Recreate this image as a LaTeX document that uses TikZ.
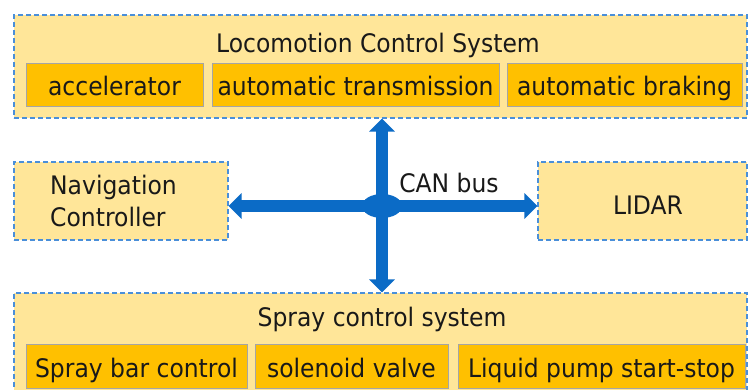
\documentclass[tikz,border=0pt]{standalone}
\usepackage{fontspec}
\setmainfont[FakeStretch=0.92]{DejaVu Sans}
\usetikzlibrary{arrows.meta,shapes.geometric}
\definecolor{outerfill}{HTML}{FFE699}
\definecolor{dashblue}{HTML}{4A8FD9}
\definecolor{innerfill}{HTML}{FFC000}
\definecolor{innerline}{HTML}{A5A5A5}
\definecolor{busblue}{HTML}{0B6BC6}
\tikzset{
 lbl/.style={font=\fontsize{25.5}{32}\selectfont, text=black!90, inner sep=0pt},
 outerbox/.style={rectangle, draw=dashblue, fill=outerfill, dash pattern=on 5pt off 3pt, line width=1.1pt, inner sep=0pt},
 innerbox/.style={rectangle, draw=innerline, fill=innerfill, line width=1pt, inner sep=0pt, lbl, text height=23pt, text depth=2pt},
 bus/.style={draw=busblue, line width=12.5pt, -{Triangle[width=25pt,length=13pt]}},
}
\begin{document}
\begin{tikzpicture}[x=1pt,y=-1pt]
\clip (0,0) rectangle (748,390);
\fill[white] (0,0) rectangle (748,390);
% top system
\node[outerbox, minimum width=733pt, minimum height=103pt] (loco) at (380.5,66.5) {};
\node[lbl, anchor=base] (locot) at (378,53) {Locomotion Control System};
\node[innerbox, minimum width=177pt, minimum height=43pt] (acc) at (114.5,85.5) {accelerator};
\node[innerbox, minimum width=287pt, minimum height=43pt] (trans) at (355.5,85.5) {automatic transmission};
\node[innerbox, minimum width=235pt, minimum height=43pt] (brake) at (624.5,85.5) {automatic braking};
% middle
\node[outerbox, minimum width=214pt, minimum height=78pt] (nav) at (121,201) {};
\node[lbl, anchor=base west, align=left] (navt) at (50,227) {Navigation\\Controller};
\node[outerbox, minimum width=209pt, minimum height=78pt] (lidar) at (642.5,201) {};
\node[lbl, anchor=base] (lidart) at (648,215) {LIDAR};
% bottom system
\node[outerbox, minimum width=733pt, minimum height=101pt] (spray) at (380.5,343.5) {};
\node[lbl, anchor=base] (sprayt) at (382,327) {Spray control system};
\node[innerbox, minimum width=221pt, minimum height=44pt] (bar) at (136.5,367) {Spray bar control};
\node[innerbox, minimum width=193pt, minimum height=44pt] (valve) at (351.5,367) {solenoid valve};
\node[innerbox, minimum width=287pt, minimum height=44pt] (pump) at (601.5,367) {Liquid pump start-stop};
% bus
\node[ellipse, fill=busblue, minimum width=40pt, minimum height=24pt, inner sep=0pt] (hub) at (382,206) {};
\draw[bus] (hub.center) -- (hub.center -| nav.east);
\draw[bus] (hub.center) -- (hub.center -| lidar.west);
\draw[bus] (hub.center) -- (hub.center |- loco.south);
\draw[bus] (hub.center) -- (hub.center |- spray.north);
\node[lbl, anchor=base] (can) at (449,193) {CAN bus};
\end{tikzpicture}
\end{document}
